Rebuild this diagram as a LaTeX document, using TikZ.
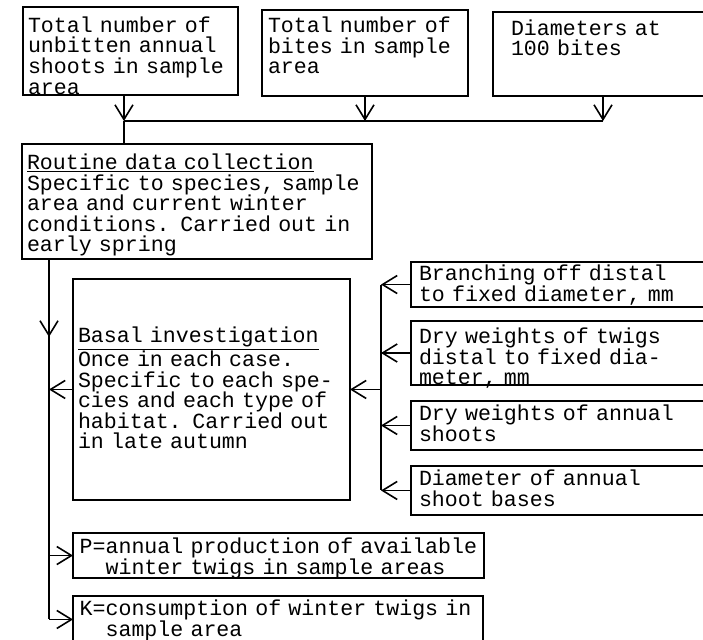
\documentclass[tikz,border=0pt]{standalone}
\usepackage{fontspec}
\newfontfamily\typefont{Liberation Mono}
\usetikzlibrary{arrows.meta,positioning,calc}

\tikzset{
  box/.style={draw, anchor=north west, align=left, inner ysep=0pt, outer sep=0pt},
  sz/.style n args={4}{inner xsep=#1, text width=#2, text height=#3, text depth=#4}
}

\begin{document}
\begin{tikzpicture}[x=0.75pt, y=-0.75pt, very thick,
    >={Straight Barb[length=11pt,width=13.5pt]},
    font=\typefont\fontsize{16.2}{15.4}\selectfont]

    \useasboundingbox (0,0) rectangle (703,639);
    \clip (0,0) rectangle (703,639);

    % Input data boxes
    \node[box, sz={3.75pt}{153.75pt}{19.1pt}{46.9pt}] (in1) at (23,7)
        {Total number of\\unbitten annual\\shoots in sample\\area};
    \node[box, sz={4.5pt}{145.5pt}{16.9pt}{47.6pt}] (in2) at (262,10)
        {Total number of\\bites in sample\\area};
    \node[box, sz={13.5pt}{138pt}{17.6pt}{45.4pt}] (in3) at (493,12)
        {Diameters at\\100 bites};

    % Collecting line
    \coordinate (bus) at (0,121);
    \coordinate (out1) at ([xshift=-4.9pt]in1.south);
    \draw[->] (out1) -- (out1 |- bus);
    \draw[->] (in2.south) -- (in2.south |- bus);
    \draw[->] (in3.south) -- (in3.south |- bus);
    \draw (out1 |- bus) -- (in3.south |- bus);

    % Routine data collection
    \node[box, sz={3.75pt}{255pt}{19.1pt}{67.1pt}] (rout) at (22,144)
        {\underline{Routine data collection}\\Specific to species, sample\\area and current winter\\conditions. Carried out in\\early spring};
    \draw (out1 |- bus) -- (out1 |- rout.north);

    % Basal investigation
    \node[box, sz={3.75pt}{200.25pt}{47.6pt}{118.1pt}] (basal) at (73,279)
        {\underline{Basal investigation}\\Once in each case.\\Specific to each spe-\\cies and each type of\\habitat. Carried out\\in late autumn};

    % Measurements on the right
    \node[box, sz={6pt}{213pt}{13.9pt}{19.9pt}] (br) at (411,262)
        {Branching off distal\\to fixed diameter, mm};
    \node[box, sz={6pt}{213pt}{16.9pt}{31.1pt}] (dwt) at (411,321)
        {Dry weights of twigs\\distal to fixed dia-\\meter, mm};
    \node[box, sz={6pt}{213pt}{14.6pt}{22.1pt}] (dws) at (411,401)
        {Dry weights of annual\\shoots};
    \node[box, sz={6pt}{213pt}{14.6pt}{22.1pt}] (dia) at (411,466)
        {Diameter of annual\\shoot bases};

    \coordinate (rl) at ([xshift=-22.5pt]br.west);
    \draw[->] (br.west) -- (br.west -| rl);
    \draw[->] (dwt.west) -- (dwt.west -| rl);
    \draw[->] (dws.west) -- (dws.west -| rl);
    \draw[->] (dia.west) -- (dia.west -| rl);
    \draw (br.west -| rl) -- (dia.west -| rl);
    \draw[->] (basal.east -| rl) -- (basal.east);

    % Results
    \node[box, sz={5pt}{298.25pt}{15.4pt}{18.4pt}] (pp) at (73,533)
        {\mbox{P=annual production of available}\\\phantom{P=}winter twigs in sample areas};
    \node[box, sz={5pt}{297.5pt}{14.6pt}{20.6pt}] (kk) at (73,596)
        {K=consumption of winter twigs in\\\phantom{K=}sample area};

    % Main trunk on the left
    \coordinate (tr) at ([xshift=20.25pt]rout.south west);
    \draw[->] (tr) -- ++(0,78);
    \draw (tr) -- (tr |- kk.west);
    \draw[->] (basal.west) -- (basal.west -| tr);
    \draw[->] (tr |- pp.west) -- (pp.west);
    \draw[->] (tr |- kk.west) -- (kk.west);

\end{tikzpicture}
\end{document}
